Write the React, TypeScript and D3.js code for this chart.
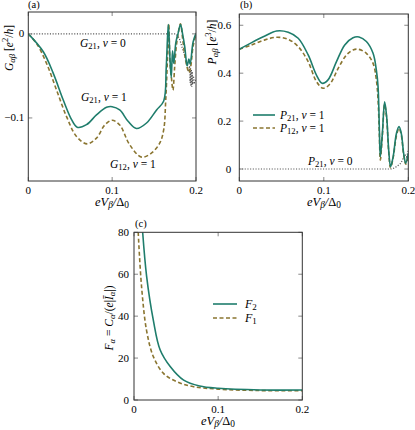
import React from "react";
import * as d3 from "d3";

// ---------- Data ----------
// Panel (a)
const gxTicks = [0, 0.1, 0.2];
const gyTicks = [0, -0.1];
const g21nu1X = [0, 0.0179, 0.0298, 0.0417, 0.0516, 0.0583, 0.0694, 0.0813, 0.0933, 0.1, 0.109, 0.119, 0.129, 0.141, 0.153, 0.1615, 0.1645, 0.167, 0.169, 0.1705, 0.172, 0.1735, 0.176, 0.1785, 0.1815, 0.184, 0.1865, 0.1895, 0.1915, 0.193, 0.1965, 0.2];
const g21nu1Y = [0, -0.0213, -0.047, -0.0787, -0.102, -0.111, -0.108, -0.0964, -0.0874, -0.0866, -0.0905, -0.104, -0.1126, -0.106, -0.0905, -0.0798, -0.04, 0.011, -0.03, -0.052, -0.02, -0.035, -0.01, 0.0, 0.011, 0.0, -0.015, -0.038, -0.03, -0.036, -0.01, 0.001];
const g12nu1X = [0, 0.0099, 0.0218, 0.0337, 0.0456, 0.0575, 0.0702, 0.0813, 0.0913, 0.1, 0.109, 0.121, 0.135, 0.1468, 0.1567, 0.1615, 0.1639, 0.1659, 0.1675, 0.169, 0.1705, 0.1725, 0.1745, 0.1765, 0.179, 0.1815, 0.184, 0.1865, 0.1895, 0.1915, 0.1935, 0.1965, 0.2];
const g12nu1Y = [0, -0.0115, -0.0352, -0.0668, -0.0984, -0.122, -0.1308, -0.124, -0.1083, -0.1028, -0.1083, -0.132, -0.1466, -0.1419, -0.13, -0.114, -0.0787, -0.031, 0.012, -0.035, -0.05, -0.067, -0.04, -0.015, 0.002, 0.012, -0.005, -0.025, -0.04, -0.046, -0.04, -0.015, 0.0];
const g21nu0X = [0, 0.176, 0.18, 0.184, 0.188, 0.191, 0.1925, 0.193, 0.1935, 0.194, 0.1945, 0.195, 0.1955, 0.196, 0.197, 0.198, 0.2];
const g21nu0Y = [0, 0, -0.005, -0.018, -0.03, -0.045, -0.038, -0.058, -0.04, -0.062, -0.042, -0.063, -0.045, -0.06, -0.05, -0.058, -0.055];

// Panel (b)
const pxTicks = [0, 0.1, 0.2];
const pyTicks = [0, 0.2, 0.4, 0.6];
const p21nu1X = [0, 0.0146, 0.0303, 0.0441, 0.0579, 0.0697, 0.0815, 0.0913, 0.098, 0.105, 0.115, 0.1248, 0.1346, 0.1417, 0.1504, 0.1583, 0.1622, 0.1642, 0.1657, 0.1669, 0.1693, 0.172, 0.1744, 0.1768, 0.179, 0.182, 0.186, 0.189, 0.1917, 0.1945, 0.197, 0.2];
const p21nu1Y = [0.5, 0.5276, 0.555, 0.576, 0.5707, 0.5456, 0.476, 0.392, 0.3577, 0.372, 0.448, 0.518, 0.548, 0.551, 0.532, 0.483, 0.413, 0.344, 0.177, 0.0515, 0.149, 0.281, 0.2185, 0.079, 0.0097, 0.05, 0.149, 0.177, 0.149, 0.065, 0.024, 0.065];
const p12nu1X = [0, 0.0146, 0.0303, 0.0441, 0.0579, 0.0697, 0.0815, 0.0913, 0.0992, 0.107, 0.117, 0.1268, 0.1346, 0.1405, 0.1504, 0.1583, 0.1622, 0.1642, 0.1657, 0.1669, 0.1693, 0.172, 0.1744, 0.1768, 0.179, 0.182, 0.186, 0.189, 0.1917, 0.1945, 0.197, 0.2];
const p12nu1Y = [0.5, 0.518, 0.539, 0.55, 0.541, 0.511, 0.448, 0.365, 0.337, 0.3535, 0.42, 0.476, 0.497, 0.5, 0.483, 0.441, 0.372, 0.288, 0.149, 0.0376, 0.14, 0.27, 0.21, 0.072, 0.005, 0.045, 0.14, 0.17, 0.142, 0.06, 0.02, 0.06];
const p21nu0X = [0, 0.18, 0.182, 0.186, 0.19, 0.192, 0.194, 0.196, 0.198, 0.2];
const p21nu0Y = [0, 0, 0.002, 0.01, 0.02, 0.03, 0.045, 0.06, 0.05, 0.08];

// Panel (c)
const fxTicks = [0, 0.1, 0.2];
const fyTicks = [0, 20, 40, 60, 80];
const f2X = [0.0103, 0.015, 0.023, 0.031, 0.043, 0.059, 0.078, 0.1, 0.15, 0.2];
const f2Y = [80, 59, 38, 24, 16, 9.5, 6.7, 5.6, 4.8, 4.8];
const f1X = [0.005, 0.009, 0.015, 0.023, 0.035, 0.051, 0.07, 0.1, 0.15, 0.2];
const f1Y = [80, 54, 33, 20.7, 12.7, 8.7, 6.4, 5.2, 4.5, 4.4];

// ---------- Styles ----------
const TEAL = "#1f7d6c";
const OLIVE = "#8a7530";
const DOT = "#555";
const FONT = "'Liberation Serif', 'Times New Roman', serif";

type Series = { xs: number[]; ys: number[]; color: string; dash?: string; width?: number; linear?: boolean };

const zip = (xs: number[], ys: number[]) => xs.map((x, i) => [x, ys[i]] as [number, number]);

function fmt(v: number) {
  if (v === 0) return "0";
  const s = String(v);
  return v < 0 ? "\u2212" + s.slice(1) : s;
}

function Panel(props: {
  id: string;
  left: number; right: number; top: number; bottom: number;
  xDomain: [number, number]; yDomain: [number, number];
  xTicks: number[]; yTicks: number[];
  series: Series[];
  yGap: number;
  children?: React.ReactNode;
}) {
  const { id, left, right, top, bottom, xDomain, yDomain, xTicks, yTicks, series, yGap } = props;
  const x = d3.scaleLinear().domain(xDomain).range([left, right]);
  const y = d3.scaleLinear().domain(yDomain).range([bottom, top]);
  const smooth = d3.line<[number, number]>().x(d => x(d[0])).y(d => y(d[1])).curve(d3.curveCatmullRom.alpha(0.5));
  const straight = d3.line<[number, number]>().x(d => x(d[0])).y(d => y(d[1]));
  return (
    <g>
      <defs>
        <clipPath id={id}>
          <rect x={left} y={top} width={right - left} height={bottom - top} />
        </clipPath>
      </defs>
      <g clipPath={`url(#${id})`}>
        {series.map((s, i) => (
          <path key={i} d={(s.linear ? straight : smooth)(zip(s.xs, s.ys)) || ""} fill="none" stroke={s.color}
            strokeWidth={s.width ?? 1.6} strokeDasharray={s.dash} />
        ))}
      </g>
      {xTicks.map(t => (
        <g key={"x" + t}>
          <line x1={x(t)} x2={x(t)} y1={bottom} y2={bottom - 4} stroke="#888" />
          <line x1={x(t)} x2={x(t)} y1={top} y2={top + 4} stroke="#888" />
          <text x={x(t)} y={bottom + 12.5} textAnchor="middle" fontSize={11} fontFamily={FONT}>{fmt(t)}</text>
        </g>
      ))}
      {yTicks.map(t => (
        <g key={"y" + t}>
          <line x1={left} x2={left + 4} y1={y(t)} y2={y(t)} stroke="#888" />
          <line x1={right} x2={right - 4} y1={y(t)} y2={y(t)} stroke="#888" />
          <text x={left - yGap} y={y(t) + 3.5} textAnchor="end" fontSize={11} fontFamily={FONT}>{fmt(t)}</text>
        </g>
      ))}
      <rect x={left} y={top} width={right - left} height={bottom - top} fill="none" stroke="#333" strokeWidth={1} />
      {props.children}
    </g>
  );
}

const Sub = ({ children }: { children: React.ReactNode }) => (
  <tspan baselineShift="-25%" fontSize="75%" fontStyle="normal">{children}</tspan>
);

function XLabel({ x, y }: { x: number; y: number }) {
  return (
    <text x={x} y={y} textAnchor="middle" fontSize={12.5} fontFamily={FONT} fontStyle="italic">
      eV<tspan baselineShift="-25%" fontSize="75%">β</tspan><tspan>/</tspan><tspan fontStyle="normal">Δ</tspan><tspan baselineShift="-25%" fontSize="75%" fontStyle="normal">0</tspan>
    </text>
  );
}

function Ann({ x, y, letter, sub, nu }: { x: number; y: number; letter: string; sub: string; nu: string }) {
  return (
    <text x={x} y={y} fontSize={11.5} fontFamily={FONT}>
      <tspan fontStyle="italic">{letter}</tspan><Sub>{sub}</Sub><tspan>, </tspan>
      <tspan fontStyle="italic">ν</tspan><tspan> = {nu}</tspan>
    </text>
  );
}

export default function App() {
  return (
    <svg width={415} height={430} style={{ position: "absolute", left: 0, top: 0, background: "#fff" }}>
      {/* Panel (a) */}
      <Panel id="ca" left={28.3} right={196} top={12} bottom={181}
        xDomain={[0, 0.2]} yDomain={[-0.175, 0.026]} xTicks={gxTicks} yTicks={gyTicks} yGap={4}
        series={[
          { xs: g21nu0X, ys: g21nu0Y, color: DOT, dash: "1.1,1.6", width: 1.2, linear: true },
          { xs: g12nu1X, ys: g12nu1Y, color: OLIVE, dash: "4,2.5" },
          { xs: g21nu1X, ys: g21nu1Y, color: TEAL },
        ]}>
        <Ann x={80} y={47} letter="G" sub="21" nu="0" />
        <Ann x={81} y={101} letter="G" sub="21" nu="1" />
        <Ann x={110} y={168} letter="G" sub="12" nu="1" />
      </Panel>
      <text x={28} y={8} fontSize={10.5} fontFamily={FONT}>(a)</text>
      <XLabel x={112} y={206} />
      <text transform="translate(13,48) rotate(-90)" textAnchor="middle" fontSize={11.5} fontFamily={FONT}>
        <tspan fontStyle="italic">G</tspan><tspan baselineShift="-25%" fontSize="75%" fontStyle="italic">αβ</tspan>
        <tspan> [</tspan><tspan fontStyle="italic">e</tspan><tspan baselineShift="super" fontSize="75%">2</tspan><tspan>/</tspan><tspan fontStyle="italic">h</tspan><tspan>]</tspan>
      </text>

      {/* Panel (b) */}
      <Panel id="cb" left={239.3} right={408.3} top={14} bottom={181}
        xDomain={[0, 0.2]} yDomain={[-0.05, 0.647]} xTicks={pxTicks} yTicks={pyTicks} yGap={8}
        series={[
          { xs: p21nu0X, ys: p21nu0Y, color: DOT, dash: "1.1,1.6", width: 1.2, linear: true },
          { xs: p12nu1X, ys: p12nu1Y, color: OLIVE, dash: "4,2.5" },
          { xs: p21nu1X, ys: p21nu1Y, color: TEAL },
        ]}>
        <Ann x={308} y={165} letter="P" sub="21" nu="0" />
        <line x1={253} x2={275} y1={115} y2={115} stroke={TEAL} strokeWidth={1.6} />
        <line x1={253} x2={275} y1={128} y2={128} stroke={OLIVE} strokeWidth={1.6} strokeDasharray="4,2.5" />
        <Ann x={280} y={119} letter="P" sub="21" nu="1" />
        <Ann x={280} y={132} letter="P" sub="12" nu="1" />
      </Panel>
      <text x={240} y={8} fontSize={10.5} fontFamily={FONT}>(b)</text>
      <XLabel x={324} y={206} />
      <text transform="translate(216,42) rotate(-90)" textAnchor="middle" fontSize={11.5} fontFamily={FONT}>
        <tspan fontStyle="italic">P</tspan><tspan baselineShift="-25%" fontSize="75%" fontStyle="italic">αβ</tspan>
        <tspan> [</tspan><tspan fontStyle="italic">e</tspan><tspan baselineShift="super" fontSize="75%">3</tspan><tspan>/</tspan><tspan fontStyle="italic">h</tspan><tspan>]</tspan>
      </text>

      {/* Panel (c) */}
      <Panel id="cc" left={134} right={302.3} top={232.3} bottom={400}
        xDomain={[0, 0.2]} yDomain={[0, 80]} xTicks={fxTicks} yTicks={fyTicks} yGap={5}
        series={[
          { xs: f1X, ys: f1Y, color: OLIVE, dash: "4,2.5" },
          { xs: f2X, ys: f2Y, color: TEAL },
        ]}>
        <line x1={213} x2={237} y1={304} y2={304} stroke={TEAL} strokeWidth={1.6} />
        <line x1={213} x2={237} y1={318} y2={318} stroke={OLIVE} strokeWidth={1.6} strokeDasharray="4,2.5" />
        <text x={245} y={308} fontSize={12} fontFamily={FONT}><tspan fontStyle="italic">F</tspan><Sub>2</Sub></text>
        <text x={245} y={322} fontSize={12} fontFamily={FONT}><tspan fontStyle="italic">F</tspan><Sub>1</Sub></text>
      </Panel>
      <text x={135} y={227} fontSize={10.5} fontFamily={FONT}>(c)</text>
      <XLabel x={218} y={425} />
      <text transform="translate(113,318) rotate(-90)" textAnchor="middle" fontSize={11.5} fontFamily={FONT}>
        <tspan fontStyle="italic">F</tspan><tspan baselineShift="-25%" fontSize="75%" fontStyle="italic">α</tspan>
        <tspan> = </tspan><tspan fontStyle="italic">C</tspan><tspan baselineShift="-25%" fontSize="75%" fontStyle="italic">α</tspan>
        <tspan>/(</tspan><tspan fontStyle="italic">e</tspan><tspan>|</tspan><tspan fontStyle="italic">Ī</tspan><tspan baselineShift="-25%" fontSize="75%" fontStyle="italic">α</tspan><tspan>|)</tspan>
      </text>
    </svg>
  );
}
